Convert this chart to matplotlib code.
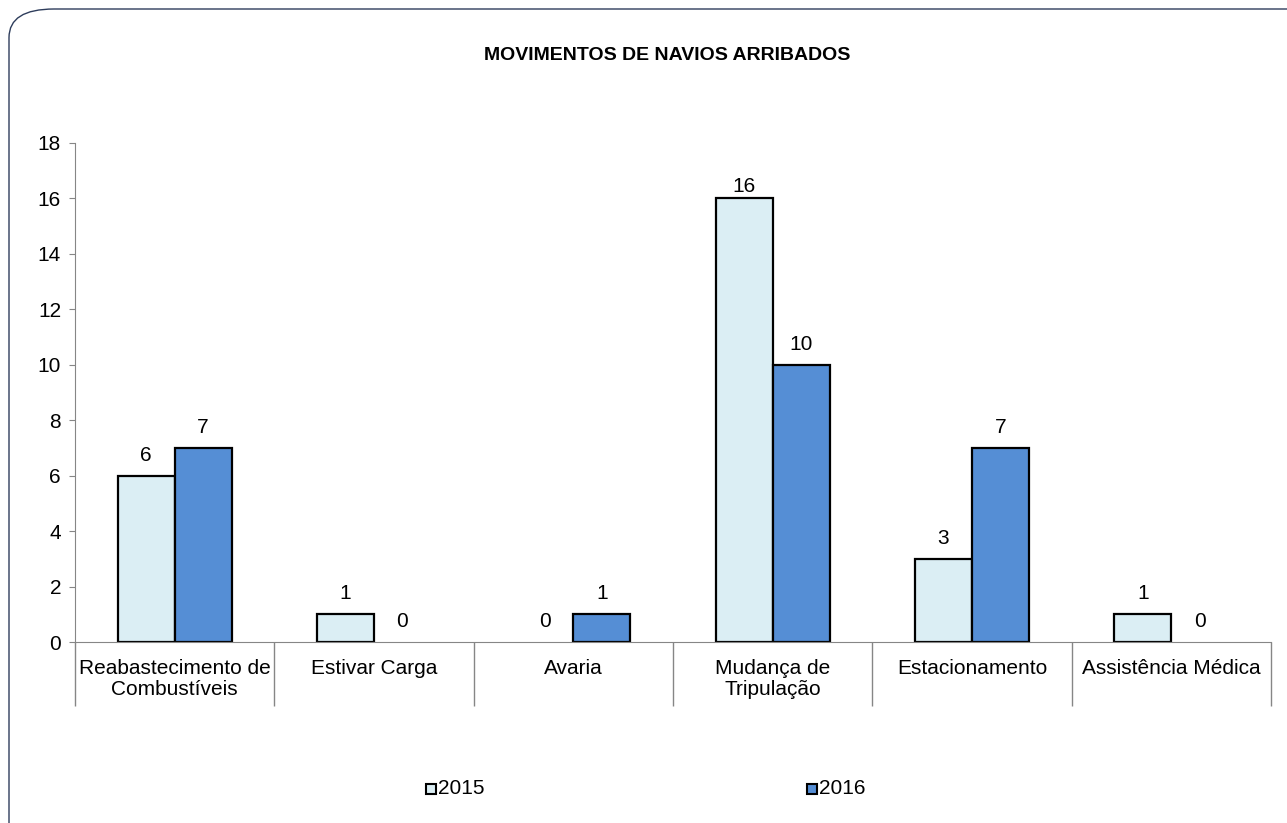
import matplotlib
matplotlib.use("Agg")
import matplotlib.pyplot as plt
import numpy as np
from matplotlib.patches import FancyBboxPatch, Rectangle
from matplotlib.ticker import FixedLocator

plt.rcParams['font.family'] = ['Liberation Sans', 'DejaVu Sans']

categories = ["Reabastecimento de\nCombustíveis", "Estivar Carga", "Avaria",
              "Mudança de\nTripulação", "Estacionamento", "Assistência Médica"]
series_names = ["2015", "2016"]
values_2015 = [6, 1, 0, 16, 3, 1]
values_2016 = [7, 0, 1, 10, 7, 0]
yticks = [0, 2, 4, 6, 8, 10, 12, 14, 16, 18]
title = "MOVIMENTOS DE NAVIOS ARRIBADOS"

c2015 = "#DBEEF4"
c2016 = "#558ED5"
axis_color = "#868686"
FS = 15

fig = plt.figure(figsize=(12.87, 8.23), dpi=100)
ax = fig.add_axes([75/1287, 1 - 642/823, (1271-75)/1287, (642-143)/823])

x = np.arange(len(categories))
w = 1 / 3.5
b1 = ax.bar(x - w/2, values_2015, w, color=c2015, edgecolor="black", linewidth=1.6, label=series_names[0])
b2 = ax.bar(x + w/2, values_2016, w, color=c2016, edgecolor="black", linewidth=1.6, label=series_names[1])

vmax = max(values_2015 + values_2016)
for bars, vals in ((b1, values_2015), (b2, values_2016)):
    for r, v in zip(bars, vals):
        if v == 0:
            r.set_linewidth(0)
            r.set_edgecolor("none")
        off = 2 if v == vmax else 8
        ax.annotate(str(v), (r.get_x() + r.get_width()/2, v), xytext=(0, off),
                    textcoords="offset points", ha="center", va="bottom", fontsize=FS)

ax.set_xlim(-0.5, len(categories) - 0.5)
ax.set_ylim(0, 18)
ax.set_yticks(yticks)
ax.tick_params(axis="y", direction="out", length=4, color=axis_color, labelsize=FS, pad=6)

ax.set_xticks(x)
ax.set_xticklabels(categories, fontsize=FS, linespacing=1.15)
ax.tick_params(axis="x", which="major", length=0, pad=12)
ax.xaxis.set_minor_locator(FixedLocator(np.arange(-0.5, len(categories), 1.0)))
ax.tick_params(axis="x", which="minor", length=46, width=1, color=axis_color, direction="out")

for s in ("top", "right"):
    ax.spines[s].set_visible(False)
for s in ("left", "bottom"):
    ax.spines[s].set_color(axis_color)

fig.text(667/1287, 1 - 55/823, title, ha="center", va="center", fontsize=14, fontweight="bold")

# legend
leg_items = [(426, c2015, series_names[0]), (807, c2016, series_names[1])]
for px, col, lab in leg_items:
    fig.patches.append(Rectangle((px/1287, 1 - 794/823), 10/1287, 10/823, transform=fig.transFigure,
                                 facecolor=col, edgecolor="black", linewidth=1.5))
    fig.text((px + 12)/1287, 1 - 789/823, lab, ha="left", va="center", fontsize=FS)

# rounded border
border = FancyBboxPatch((9/1287, -0.05), 1.2, 1 - 9/823 + 0.05,
                        boxstyle="round,pad=0,rounding_size=0.035", transform=fig.transFigure,
                        facecolor="none", edgecolor="#2E3D5C", linewidth=1.0, clip_on=False,
                        mutation_aspect=823/1287*1.55)
fig.patches.append(border)

fig.savefig("out.png", dpi=100)
